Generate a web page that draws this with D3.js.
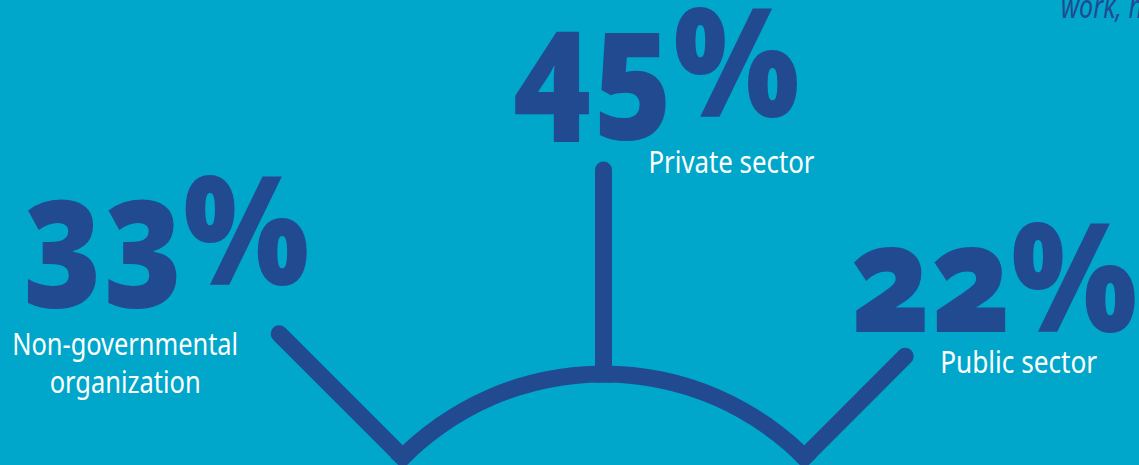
<!DOCTYPE html>
<html><head><meta charset="utf-8">
<script src="https://cdn.jsdelivr.net/npm/d3@7"></script>
<style>
html,body{margin:0;padding:0;background:#00a7cb;overflow:hidden}
</style></head>
<body>
<svg id="chart" width="1139" height="465"></svg>
<script>
// ---- data ----
const categories = ["Non-governmental organization", "Private sector", "Public sector"];
const values = [33, 45, 22];
const labelLines = [["Non-governmental", "organization"], ["Private sector"], ["Public sector"]];
const valueLabels = ["33%", "45%", "22%"];
const angles = [-45, 0, 45]; // spoke directions, degrees from vertical
const noteText = "work, h";

// ---- layout ----
const W = 1139, H = 465;
const BG = "#00a7cb", DARK = "#214a91";
const cx = 603.5, cy = 658, r0 = 284, sw = 17;
// per-spoke text offsets relative to spoke end
const layout = [
  {num:{dx:-257, dy:-49}, lab:{dx:-154, dy:21, anchor:"middle", lh:38, widths:[226,151]}},
  {num:{dx:-91, dy:-53}, lab:{dx:45, dy:3, anchor:"start", lh:38, widths:[166]}},
  {num:{dx:-55, dy:-24}, lab:{dx:35, dy:17, anchor:"start", lh:38, widths:[157]}}
];

const svg = d3.select("#chart");
svg.append("rect").attr("width", W).attr("height", H).attr("fill", BG);

const lengthScale = d3.scaleSqrt().domain([0, 45]).range([0, 204]);
const angleScale = d3.scaleLinear().domain([-45, 45]).range([-Math.PI/4, Math.PI/4]);

const g = svg.append("g").attr("transform", `translate(${cx},${cy})`);

// arc
const arc = d3.arc()
  .innerRadius(r0 - sw/2).outerRadius(r0 + sw/2)
  .startAngle(angleScale(d3.min(angles)) - 0.03)
  .endAngle(angleScale(d3.max(angles)) + 0.03);
g.append("path").attr("d", arc()).attr("fill", DARK);

const pts = values.map((v, i) => {
  const a = angleScale(angles[i]);
  const r1 = r0 + lengthScale(v);
  return {a, x0: Math.sin(a)*r0, y0: -Math.cos(a)*r0, x1: Math.sin(a)*r1, y1: -Math.cos(a)*r1};
});

// spokes (round outer cap, square inner end)
g.selectAll("line.spoke").data(pts).join("line").attr("class","spoke")
  .attr("x1", d => (d.x0+d.x1)/2).attr("y1", d => (d.y0+d.y1)/2)
  .attr("x2", d => d.x1).attr("y2", d => d.y1)
  .attr("stroke", DARK).attr("stroke-width", sw).attr("stroke-linecap", "round");
g.selectAll("line.spokeb").data(pts).join("line").attr("class","spokeb")
  .attr("x1", d => d.x0 - Math.sin(d.a)*sw/2).attr("y1", d => d.y0 + Math.cos(d.a)*sw/2)
  .attr("x2", d => (d.x0+d.x1)/2).attr("y2", d => (d.y0+d.y1)/2)
  .attr("stroke", DARK).attr("stroke-width", sw).attr("stroke-linecap", "butt");

// numbers
g.selectAll("text.num").data(pts).join("text").attr("class","num")
  .attr("x", (d,i) => d.x1 + layout[i].num.dx)
  .attr("y", (d,i) => d.y1 + layout[i].num.dy)
  .attr("font-family", "'Noto Sans', 'Open Sans', sans-serif")
  .attr("font-weight", 900).attr("font-size", 150)
  .style("font-feature-settings", "'onum' 1")
  .attr("textLength", 287).attr("lengthAdjust", "spacingAndGlyphs")
  .attr("fill", DARK)
  .text((d,i) => valueLabels[i]);

// labels
pts.forEach((d, i) => {
  const L = layout[i].lab;
  const t = g.append("text")
    .attr("font-family", "'Noto Sans', 'Open Sans', sans-serif")
    .attr("font-size", 30).attr("fill", "#ffffff")
    .attr("text-anchor", L.anchor);
  labelLines[i].forEach((line, k) => {
    t.append("tspan").attr("x", d.x1 + L.dx).attr("y", d.y1 + L.dy + k*L.lh)
      .attr("textLength", L.widths[k]).attr("lengthAdjust", "spacingAndGlyphs")
      .text(line);
  });
});

// partial note top-right (cut off by the picture edge)
svg.append("text").attr("x", 1061).attr("y", 18)
  .attr("font-family", "'Noto Sans', sans-serif").attr("font-style", "italic")
  .attr("font-size", 33).attr("fill", DARK)
  .attr("textLength", 82).attr("lengthAdjust", "spacingAndGlyphs")
  .text(noteText);
</script>
</body></html>
